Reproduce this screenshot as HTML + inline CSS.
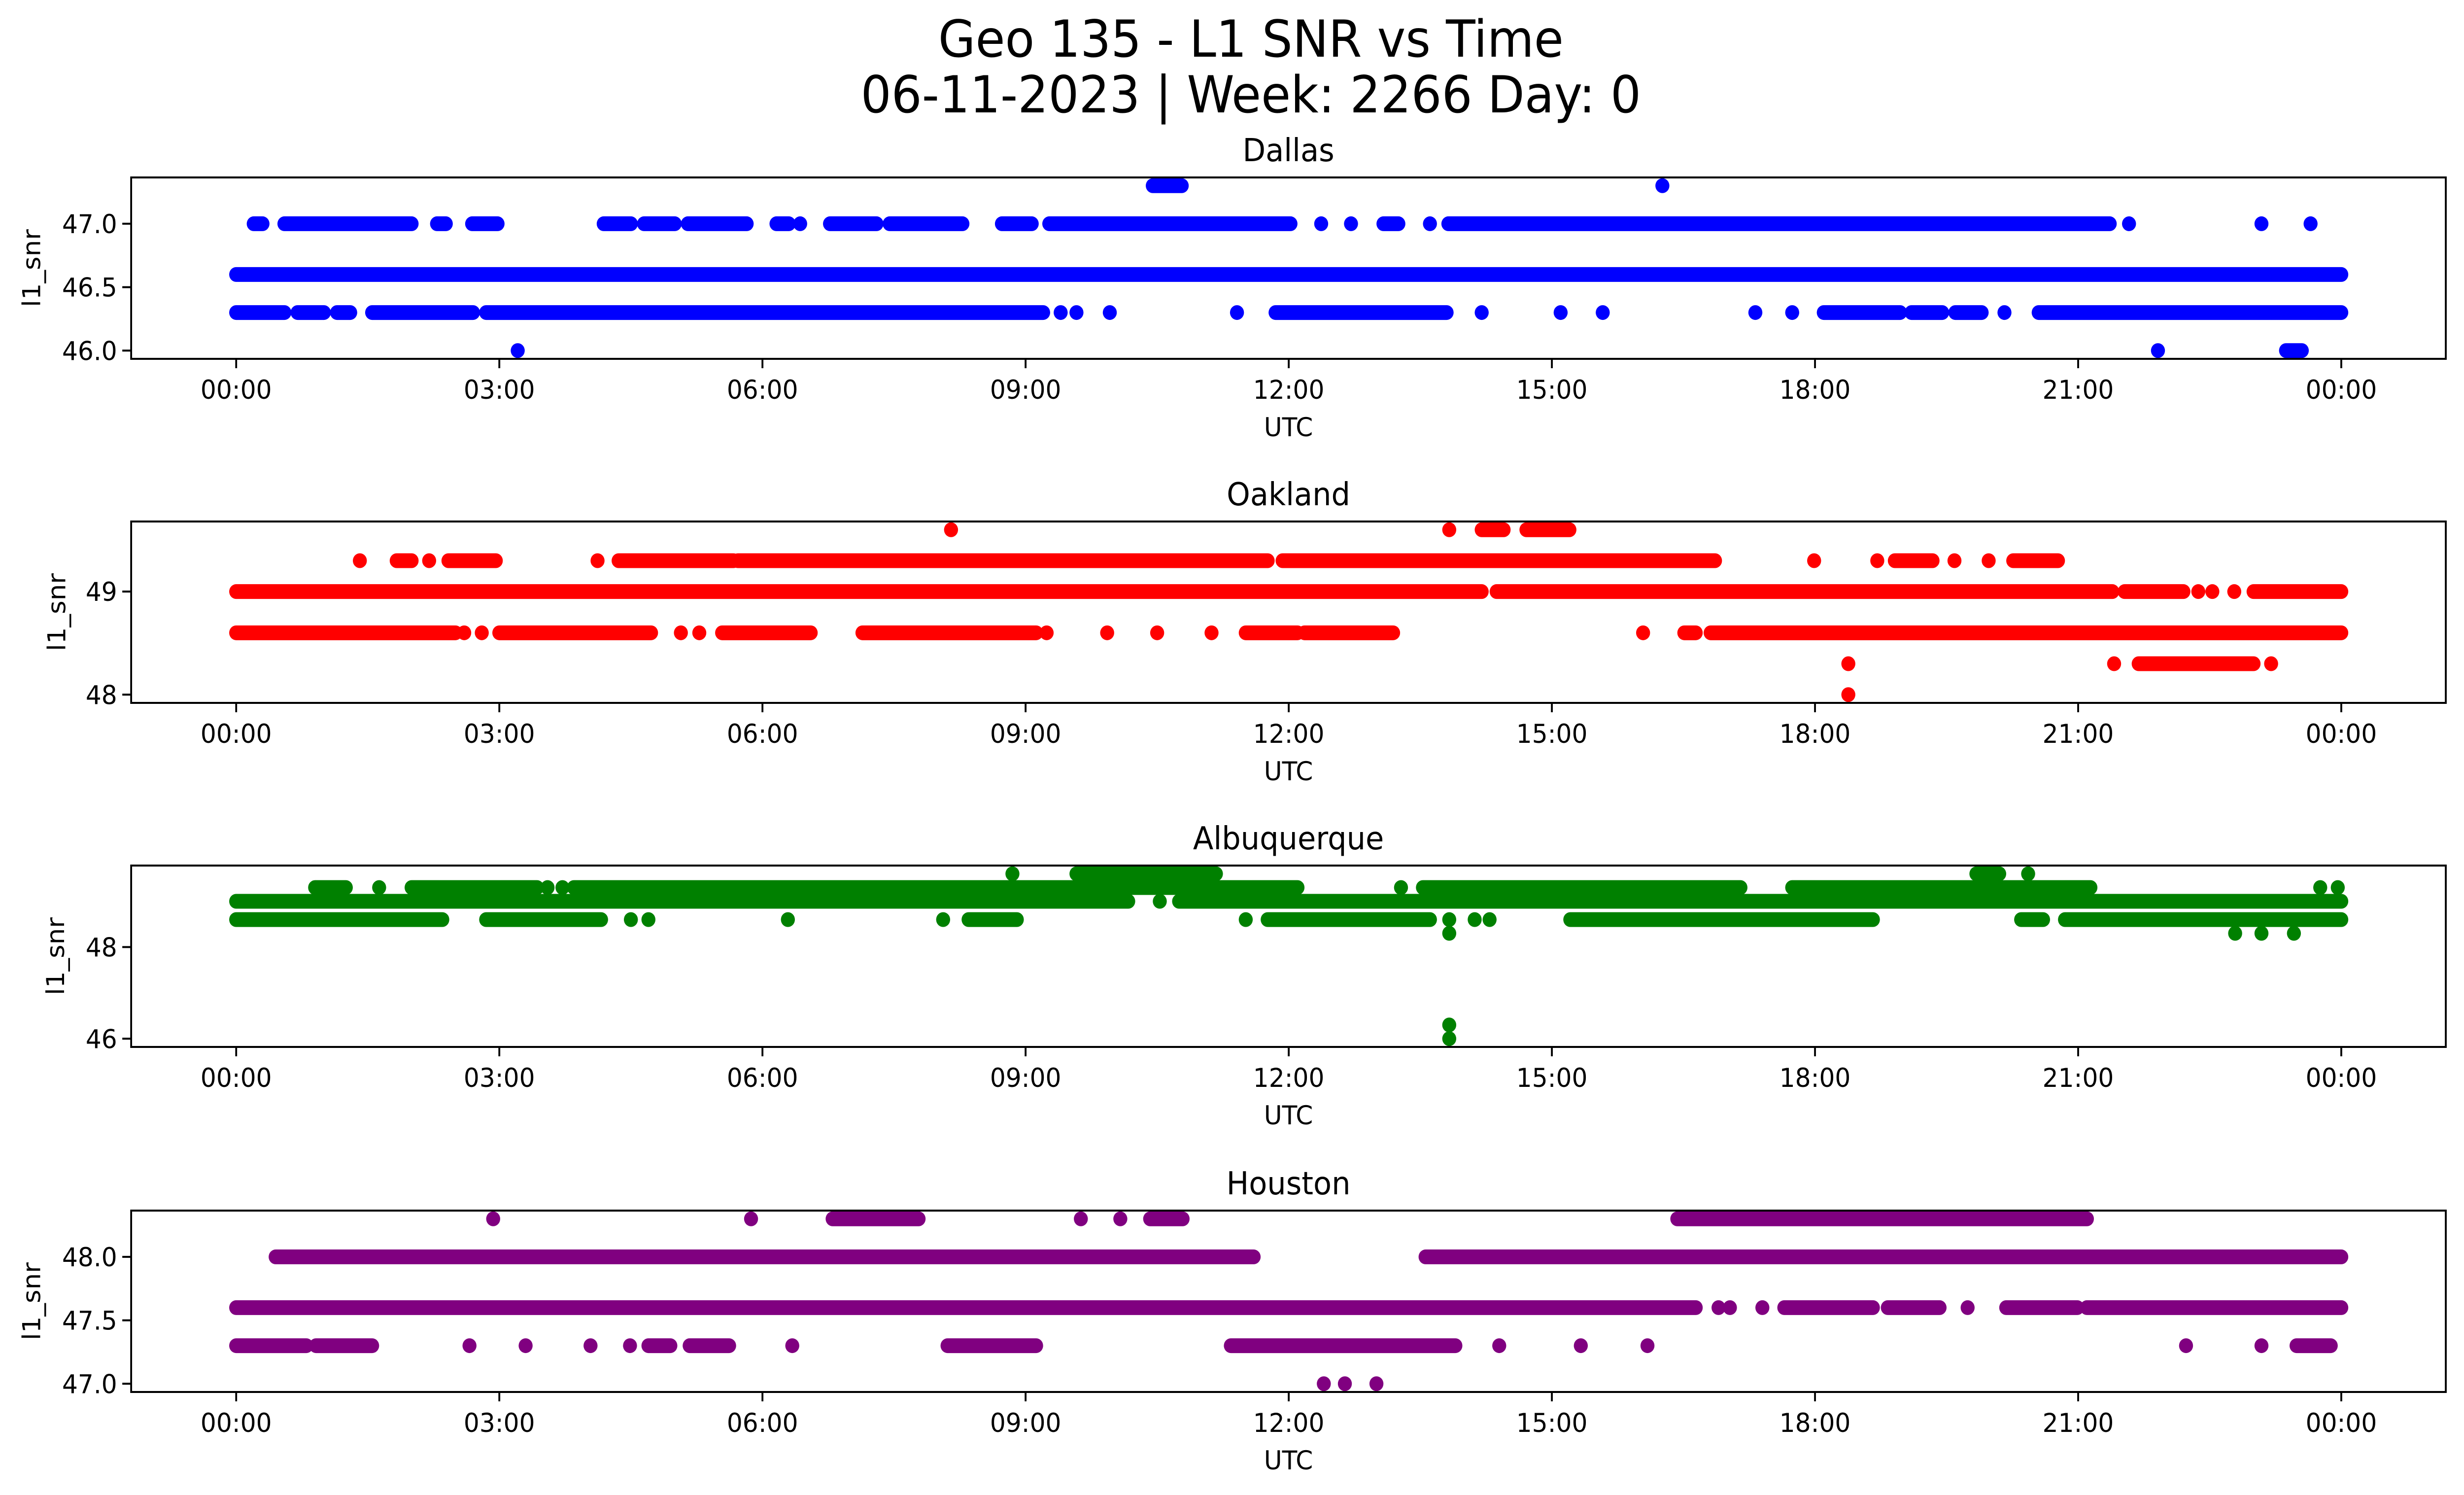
<!DOCTYPE html>
<html><head><meta charset="utf-8"><style>
html,body{margin:0;padding:0;background:#fff;overflow:hidden;width:100vw;height:100vh;}
svg{display:block;position:absolute;left:0;top:0;width:100vw;height:100vh;font-family:"DejaVu Sans","Liberation Sans",sans-serif;}
</style></head><body>
<svg id="fig" xmlns="http://www.w3.org/2000/svg" viewBox="0 0 5279 3033" preserveAspectRatio="none">
<rect width="5279" height="3033" fill="#fff"/>
<text x="2680" y="115" font-size="103" text-anchor="middle">Geo 135 - L1 SNR vs Time</text>
<text x="2680" y="228" font-size="103" text-anchor="middle">06-11-2023 | Week: 2266 Day: 0</text>
<g id="plots"></g>
</svg>
<script>
// x-axis ticks (hours) and labels
const xTickHours = [0,3,6,9,12,15,18,21,24];
const xTickLabels = ["00:00","03:00","06:00","09:00","12:00","15:00","18:00","21:00","00:00"];

// Panel names and colors
const panelNames = ["Dallas","Oakland","Albuquerque","Houston"];
const panelColors = ["#0000ff","#ff0000","#008000","#800080"];
const panelYMin = [45.935, 47.92, 45.82, 46.935];
const panelYMax = [47.365, 49.68, 49.78, 48.365];
const panelYTicks = [[46.0,46.5,47.0],[48,49],[46,48],[47.0,47.5,48.0]];
const panelYTickLabels = [["46.0","46.5","47.0"],["48","49"],["46","48"],["47.0","47.5","48.0"]];

// Series: per panel, levels (SNR values) and time intervals [startHour,endHour] where samples exist
const dallasLevels = [47.3, 47.0, 46.6, 46.3, 46.0];
const dallasIntervals = [
 [[10.45,10.78],[16.26,16.26]],
 [[0.2,0.3],[0.55,2.0],[2.29,2.39],[2.69,2.98],[4.19,4.5],[4.65,5.0],[5.15,5.82],[6.16,6.3],[6.43,6.43],[6.77,7.3],[7.45,8.28],[8.73,9.07],[9.27,12.02],[12.37,12.37],[12.71,12.71],[13.08,13.25],[13.61,13.61],[13.82,21.36],[21.58,21.58],[23.09,23.09],[23.65,23.65]],
 [[0,24]],
 [[0,0.55],[0.7,1.0],[1.15,1.3],[1.55,2.7],[2.85,9.2],[9.4,9.4],[9.58,9.58],[9.96,9.96],[11.41,11.41],[11.85,13.8],[14.2,14.2],[15.1,15.1],[15.58,15.58],[17.32,17.32],[17.74,17.74],[18.1,18.97],[19.1,19.45],[19.6,19.9],[20.16,20.16],[20.55,24]],
 [[3.21,3.21],[21.91,21.91],[23.37,23.55]]
];
const oaklandLevels = [49.6, 49.3, 49.0, 48.6, 48.3, 48.0];
const oaklandIntervals = [
 [[8.15,8.15],[13.83,13.83],[14.2,14.45],[14.71,15.2]],
 [[1.41,1.41],[1.83,2.0],[2.2,2.2],[2.42,2.96],[4.12,4.12],[4.36,5.67],[5.72,11.76],[11.93,16.86],[17.99,17.99],[18.71,18.71],[18.91,19.34],[19.59,19.59],[19.98,19.98],[20.26,20.77]],
 [[0,14.2],[14.37,21.39],[21.53,22.2],[22.37,22.37],[22.53,22.53],[22.78,22.78],[23.0,24]],
 [[0,2.5],[2.6,2.6],[2.8,2.8],[3.0,4.73],[5.07,5.07],[5.28,5.28],[5.54,6.55],[7.14,9.12],[9.24,9.24],[9.93,9.93],[10.5,10.5],[11.12,11.12],[11.51,12.1],[12.18,13.19],[16.04,16.04],[16.51,16.64],[16.81,24]],
 [[18.38,18.38],[21.41,21.41],[21.69,23.0],[23.2,23.2]],
 [[18.38,18.38]]
];
const albuqLevels = [49.6, 49.3, 49.0, 48.6, 48.3, 46.3, 46.0];
const albuqIntervals = [
 [[8.85,8.85],[9.58,11.17],[19.84,20.1],[20.43,20.43]],
 [[0.9,1.25],[1.63,1.63],[2.0,3.43],[3.55,3.55],[3.72,3.72],[3.85,12.1],[13.28,13.28],[13.53,17.15],[17.74,21.14],[23.76,23.76],[23.96,23.96]],
 [[0,10.17],[10.53,10.53],[10.75,24]],
 [[0,2.35],[2.85,4.16],[4.5,4.5],[4.7,4.7],[6.29,6.29],[8.06,8.06],[8.35,8.9],[11.51,11.51],[11.76,13.61],[13.83,13.83],[14.12,14.12],[14.29,14.29],[15.21,18.66],[20.35,20.6],[20.85,24]],
 [[13.83,13.83],[22.79,22.79],[23.09,23.09],[23.46,23.46]],
 [[13.83,13.83]],
 [[13.83,13.83]]
];
const houstonLevels = [48.3, 48.0, 47.6, 47.3, 47.0];
const houstonIntervals = [
 [[2.93,2.93],[5.87,5.87],[6.8,7.78],[9.63,9.63],[10.08,10.08],[10.42,10.79],[16.43,21.1]],
 [[0.45,11.6],[13.56,24]],
 [[0,16.64],[16.9,16.9],[17.03,17.03],[17.4,17.4],[17.65,18.66],[18.83,19.42],[19.74,19.74],[20.18,20.99],[21.1,24]],
 [[0,0.8],[0.91,1.55],[2.66,2.66],[3.3,3.3],[4.04,4.04],[4.49,4.49],[4.7,4.95],[5.17,5.62],[6.34,6.34],[8.11,9.12],[11.34,13.9],[14.4,14.4],[15.33,15.33],[16.09,16.09],[22.23,22.23],[23.09,23.09],[23.49,23.88]],
 [[12.4,12.4],[12.64,12.64],[13.0,13.0]]
];
const allLevels = [dallasLevels, oaklandLevels, albuqLevels, houstonLevels];
const allIntervals = [dallasIntervals, oaklandIntervals, albuqIntervals, houstonIntervals];

const NS = "http://www.w3.org/2000/svg";
const AX_L = 281, AX_R = 5240, AX_H = 368;
const AX_TOPS = [360, 1058, 1756, 2456];
const YLABEL_X = [67, 121, 118, 67];
const X0 = 506, XPH = 187.92, R = 15;
function xs(h){ return X0 + h*XPH; }
function mk(tag, attrs, parent){ const e=document.createElementNS(NS,tag); for(const k in attrs) e.setAttribute(k,attrs[k]); parent.appendChild(e); return e; }
const root = document.getElementById("plots");

for(let p=0;p<4;p++){
  const top = AX_TOPS[p], bot = top+AX_H;
  const ymin = panelYMin[p], ymax = panelYMax[p];
  const ys = v => top + (ymax - v)/(ymax - ymin)*AX_H;
  const g = mk("g",{},root);
  
  
  const dg = mk("g",{fill:panelColors[p], stroke:panelColors[p]},g);
  
  
  const lv = allLevels[p], iv = allIntervals[p];
  for(let i=0;i<lv.length;i++){
    const y = ys(lv[i]);
    for(const seg of iv[i]){
      let m;
      if(seg[0]===seg[1]){
        m = mk("circle",{cx:xs(seg[0]),cy:y,r:R,stroke:"none"},dg);
      } else {
        m = mk("line",{x1:xs(seg[0]),x2:xs(seg[1]),y1:y,y2:y,"stroke-width":2*R,"stroke-linecap":"round"},dg);
      }
      
      
    }
  }
  const fr = mk("rect",{x:AX_L,y:top,width:AX_R-AX_L,height:AX_H,fill:"none",stroke:"#000","stroke-width":4},g);
  
  
  for(let i=0;i<xTickHours.length;i++){
    const x = xs(xTickHours[i]);
    const t = mk("line",{x1:x,x2:x,y1:bot,y2:bot+19,stroke:"#000","stroke-width":4},g);
    
    
    const tl = mk("text",{x:x,y:bot+81,"font-size":53,"text-anchor":"middle"},g);
    tl.textContent = xTickLabels[i];
    
    
  }
  for(let i=0;i<panelYTicks[p].length;i++){
    const y = ys(panelYTicks[p][i]);
    const t = mk("line",{x1:AX_L-19,x2:AX_L,y1:y,y2:y,stroke:"#000","stroke-width":4},g);
    
    
    const tl = mk("text",{x:AX_L-30,y:y+19,"font-size":53,"text-anchor":"end"},g);
    tl.textContent = panelYTickLabels[p][i];
    
    
  }
  const tt = mk("text",{x:(AX_L+AX_R)/2,y:top-33,"font-size":64,"text-anchor":"middle"},g);
  tt.textContent = panelNames[p];
  
  
  const xl = mk("text",{x:(AX_L+AX_R)/2,y:bot+157,"font-size":53,"text-anchor":"middle"},g);
  xl.textContent = "UTC";
  
  
  const cy = top+AX_H/2;
  const yl = mk("text",{x:YLABEL_X[p]+19,y:cy,"font-size":53,"text-anchor":"middle",transform:`rotate(-90 ${YLABEL_X[p]+19} ${cy})`},g);
  yl.textContent = "l1_snr";
  
  
}
</script>
</body></html>
